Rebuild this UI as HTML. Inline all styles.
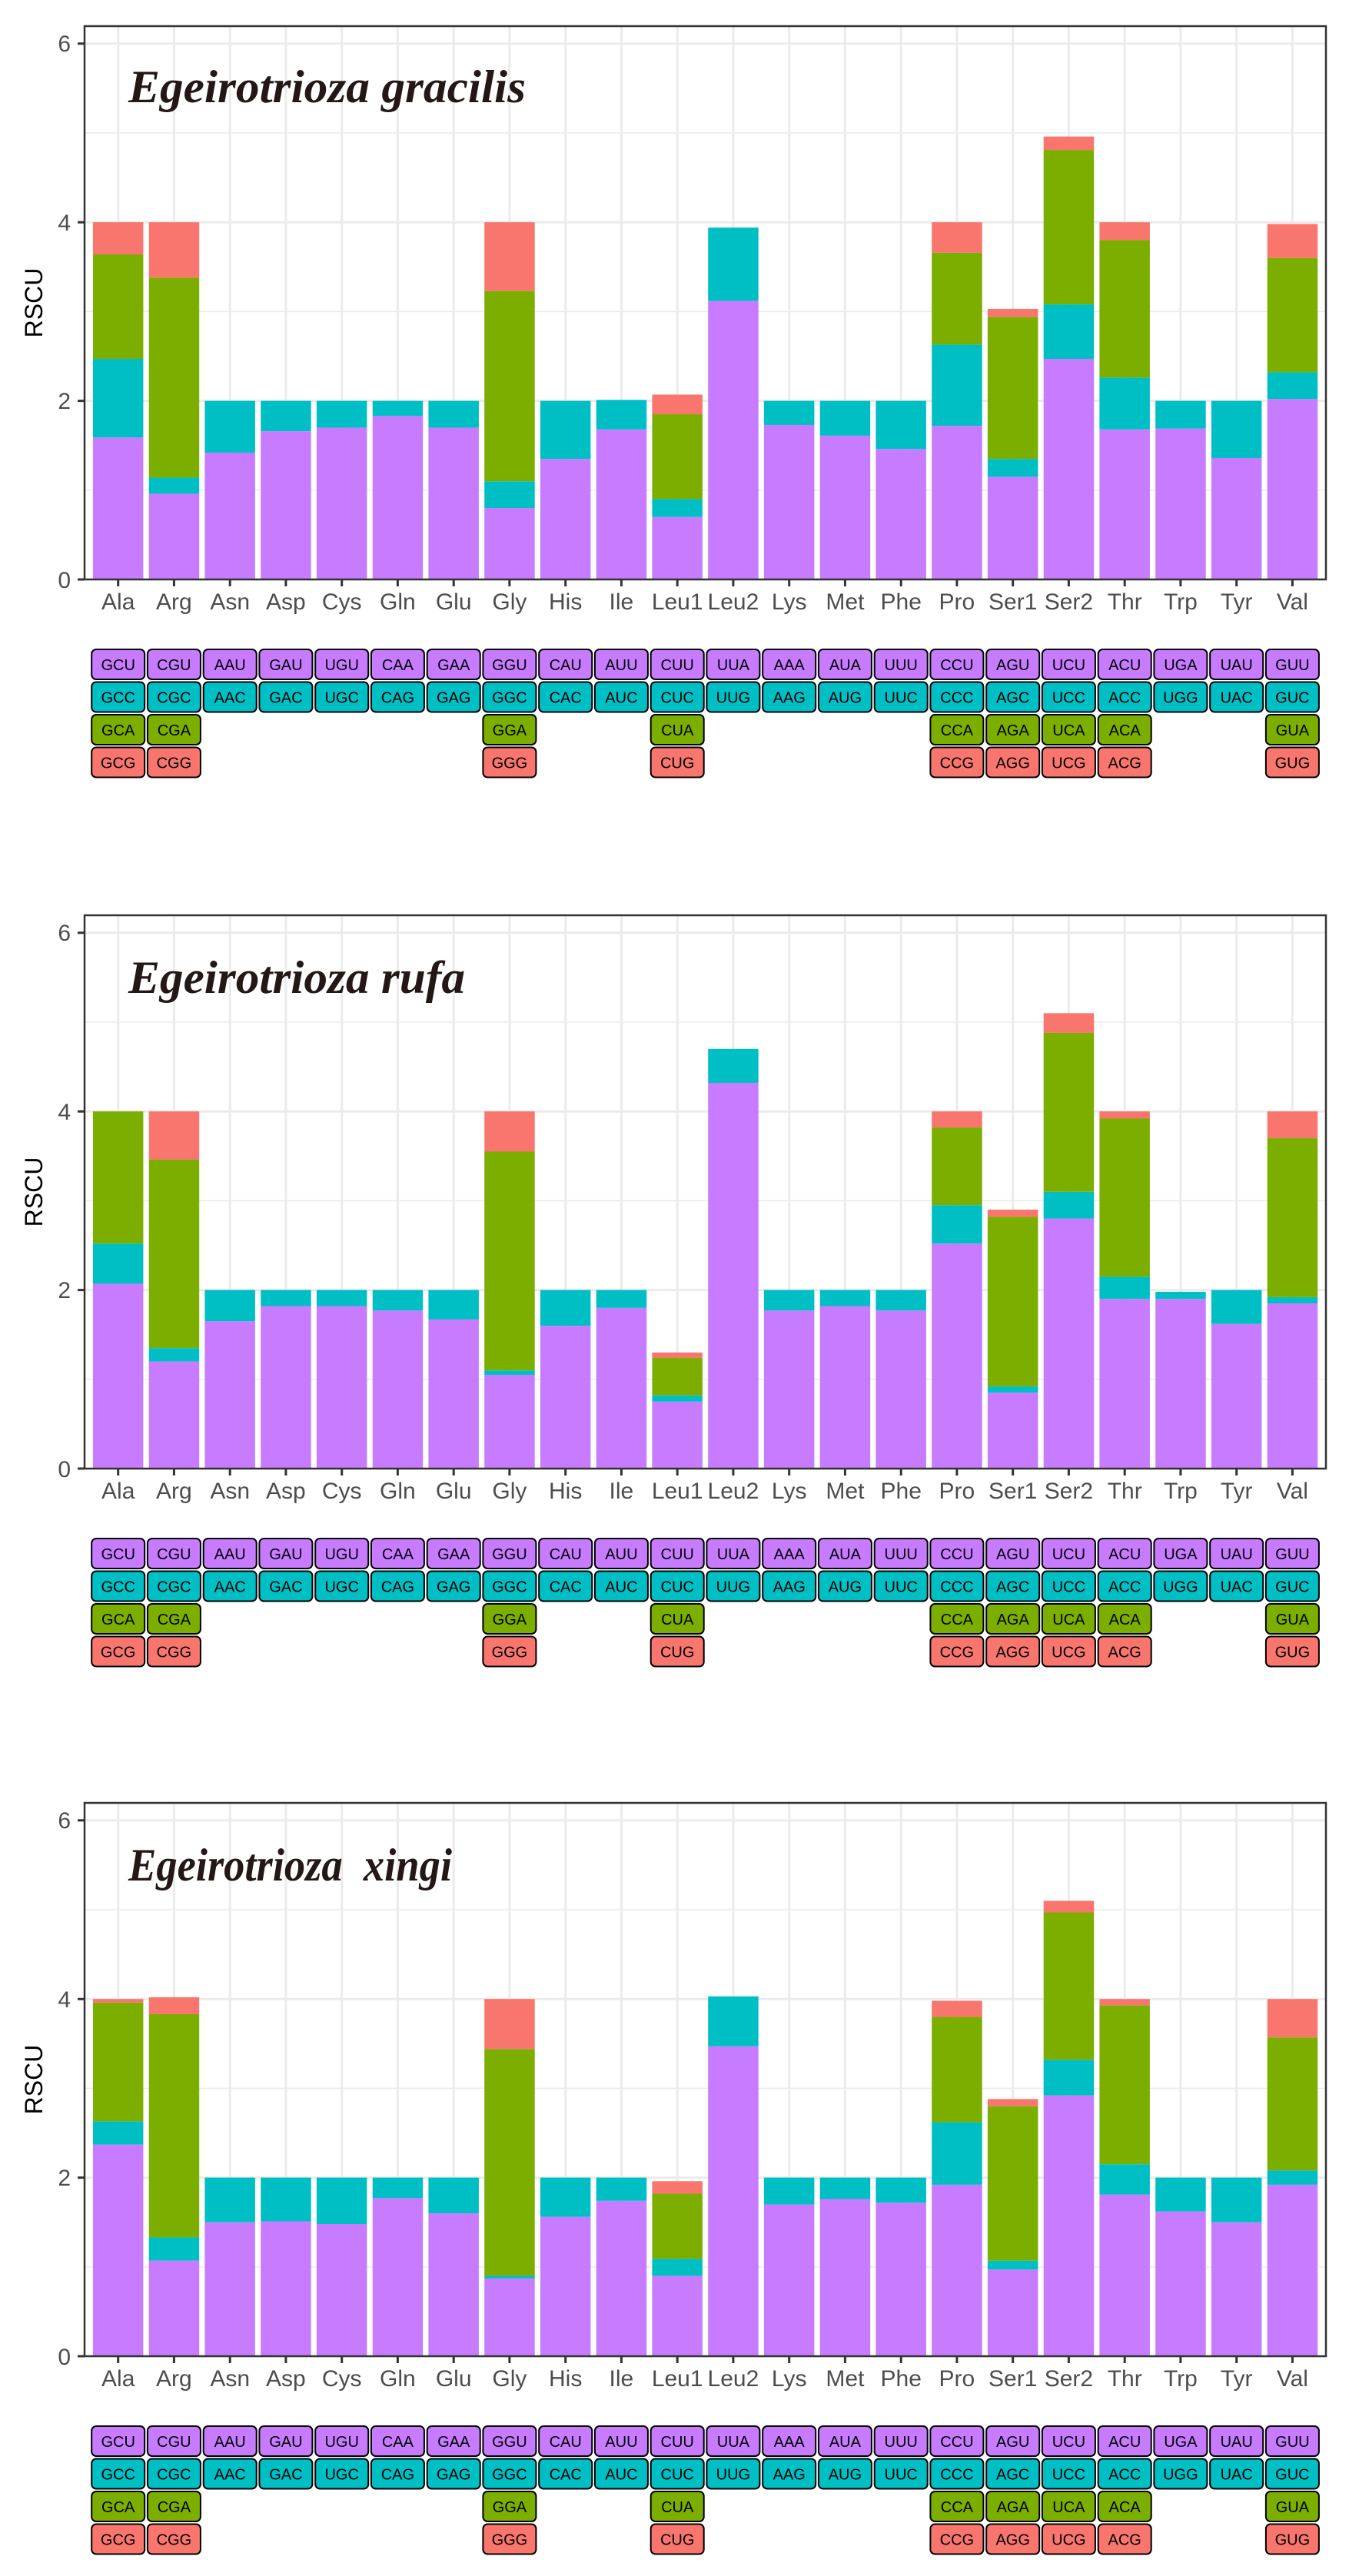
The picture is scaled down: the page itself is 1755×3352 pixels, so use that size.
<!DOCTYPE html>
<html><head><meta charset="utf-8"><style>
html,body{margin:0;padding:0;background:#fff}
svg{display:block}
.p{fill:#C77CFF}.c{fill:#00BFC4}.g{fill:#7CAE00}.r{fill:#F8766D}
.gM{stroke:#ebebeb;stroke-width:3}.gm{stroke:#ebebeb;stroke-width:1.5}
.xl{font-family:"Liberation Sans",sans-serif;font-size:30px;fill:#4d4d4d;text-anchor:middle}
.yl{font-family:"Liberation Sans",sans-serif;font-size:30px;fill:#4d4d4d;text-anchor:end}
.yt{font-family:"Liberation Sans",sans-serif;font-size:32px;fill:#000;text-anchor:middle}
.tt{font-family:"Liberation Serif",serif;font-size:60px;font-weight:bold;font-style:italic;fill:#231815}
.lb rect{stroke:#000;stroke-width:2}
.lb text{font-family:"Liberation Sans",sans-serif;font-size:20px;fill:#000;text-anchor:middle}
</style></head><body>
<svg width="1755" height="3352" viewBox="0 0 1755 3352" xmlns="http://www.w3.org/2000/svg">
<rect width="1755" height="3352" fill="#fff"/>
<defs>
<g id="grid">
<line class="gm" x1="110" x2="1725" y1="637.8" y2="637.8"/><line class="gm" x1="110" x2="1725" y1="405.4" y2="405.4"/><line class="gm" x1="110" x2="1725" y1="173" y2="173"/>
<line class="gM" x1="110" x2="1725" y1="754" y2="754"/><line class="gM" x1="110" x2="1725" y1="521.6" y2="521.6"/><line class="gM" x1="110" x2="1725" y1="289.2" y2="289.2"/><line class="gM" x1="110" x2="1725" y1="56.8" y2="56.8"/>
<path class="gM" d="M153.7 34V754M226.4 34V754M299.2 34V754M371.9 34V754M444.7 34V754M517.4 34V754M590.2 34V754M662.9 34V754M735.7 34V754M808.4 34V754M881.2 34V754M953.9 34V754M1026.7 34V754M1099.4 34V754M1172.2 34V754M1244.9 34V754M1317.7 34V754M1390.4 34V754M1463.2 34V754M1535.9 34V754M1608.7 34V754M1681.4 34V754"/>
</g>
<g id="frame">
<rect x="110" y="34" width="1615" height="720" fill="none" stroke="#333" stroke-width="2.5"/>
<path stroke="#333" stroke-width="3" d="M101 754H110M101 521.6H110M101 289.2H110M101 56.8H110M153.7 754V763M226.4 754V763M299.2 754V763M371.9 754V763M444.7 754V763M517.4 754V763M590.2 754V763M662.9 754V763M735.7 754V763M808.4 754V763M881.2 754V763M953.9 754V763M1026.7 754V763M1099.4 754V763M1172.2 754V763M1244.9 754V763M1317.7 754V763M1390.4 754V763M1463.2 754V763M1535.9 754V763M1608.7 754V763M1681.4 754V763"/>
</g>
</defs>

<!-- PANEL 1 -->
<g transform="translate(0,0)">
<use href="#grid"/>
<g transform="matrix(1 0 0 -116.2 0 754)">
<rect class="p" x="120.9" y="0" width="65.5" height="1.59"/><rect class="c" x="120.9" y="1.59" width="65.5" height="0.88"/><rect class="g" x="120.9" y="2.47" width="65.5" height="1.17"/><rect class="r" x="120.9" y="3.64" width="65.5" height="0.36"/>
<rect class="p" x="193.7" y="0" width="65.5" height="0.96"/><rect class="c" x="193.7" y="0.96" width="65.5" height="0.18"/><rect class="g" x="193.7" y="1.14" width="65.5" height="2.24"/><rect class="r" x="193.7" y="3.38" width="65.5" height="0.62"/>
<rect class="p" x="266.4" y="0" width="65.5" height="1.42"/><rect class="c" x="266.4" y="1.42" width="65.5" height="0.58"/>
<rect class="p" x="339.2" y="0" width="65.5" height="1.66"/><rect class="c" x="339.2" y="1.66" width="65.5" height="0.34"/>
<rect class="p" x="411.9" y="0" width="65.5" height="1.70"/><rect class="c" x="411.9" y="1.70" width="65.5" height="0.30"/>
<rect class="p" x="484.7" y="0" width="65.5" height="1.83"/><rect class="c" x="484.7" y="1.83" width="65.5" height="0.17"/>
<rect class="p" x="557.4" y="0" width="65.5" height="1.70"/><rect class="c" x="557.4" y="1.70" width="65.5" height="0.30"/>
<rect class="p" x="630.2" y="0" width="65.5" height="0.80"/><rect class="c" x="630.2" y="0.80" width="65.5" height="0.30"/><rect class="g" x="630.2" y="1.10" width="65.5" height="2.13"/><rect class="r" x="630.2" y="3.23" width="65.5" height="0.77"/>
<rect class="p" x="702.9" y="0" width="65.5" height="1.35"/><rect class="c" x="702.9" y="1.35" width="65.5" height="0.65"/>
<rect class="p" x="775.7" y="0" width="65.5" height="1.68"/><rect class="c" x="775.7" y="1.68" width="65.5" height="0.33"/>
<rect class="p" x="848.4" y="0" width="65.5" height="0.70"/><rect class="c" x="848.4" y="0.70" width="65.5" height="0.20"/><rect class="g" x="848.4" y="0.90" width="65.5" height="0.95"/><rect class="r" x="848.4" y="1.85" width="65.5" height="0.22"/>
<rect class="p" x="921.2" y="0" width="65.5" height="3.12"/><rect class="c" x="921.2" y="3.12" width="65.5" height="0.82"/>
<rect class="p" x="993.9" y="0" width="65.5" height="1.73"/><rect class="c" x="993.9" y="1.73" width="65.5" height="0.27"/>
<rect class="p" x="1066.7" y="0" width="65.5" height="1.61"/><rect class="c" x="1066.7" y="1.61" width="65.5" height="0.39"/>
<rect class="p" x="1139.4" y="0" width="65.5" height="1.46"/><rect class="c" x="1139.4" y="1.46" width="65.5" height="0.54"/>
<rect class="p" x="1212.2" y="0" width="65.5" height="1.72"/><rect class="c" x="1212.2" y="1.72" width="65.5" height="0.91"/><rect class="g" x="1212.2" y="2.63" width="65.5" height="1.03"/><rect class="r" x="1212.2" y="3.66" width="65.5" height="0.34"/>
<rect class="p" x="1284.9" y="0" width="65.5" height="1.15"/><rect class="c" x="1284.9" y="1.15" width="65.5" height="0.20"/><rect class="g" x="1284.9" y="1.35" width="65.5" height="1.59"/><rect class="r" x="1284.9" y="2.94" width="65.5" height="0.09"/>
<rect class="p" x="1357.7" y="0" width="65.5" height="2.47"/><rect class="c" x="1357.7" y="2.47" width="65.5" height="0.61"/><rect class="g" x="1357.7" y="3.08" width="65.5" height="1.73"/><rect class="r" x="1357.7" y="4.81" width="65.5" height="0.15"/>
<rect class="p" x="1430.4" y="0" width="65.5" height="1.68"/><rect class="c" x="1430.4" y="1.68" width="65.5" height="0.58"/><rect class="g" x="1430.4" y="2.26" width="65.5" height="1.54"/><rect class="r" x="1430.4" y="3.80" width="65.5" height="0.20"/>
<rect class="p" x="1503.2" y="0" width="65.5" height="1.69"/><rect class="c" x="1503.2" y="1.69" width="65.5" height="0.31"/>
<rect class="p" x="1575.9" y="0" width="65.5" height="1.36"/><rect class="c" x="1575.9" y="1.36" width="65.5" height="0.64"/>
<rect class="p" x="1648.7" y="0" width="65.5" height="2.02"/><rect class="c" x="1648.7" y="2.02" width="65.5" height="0.30"/><rect class="g" x="1648.7" y="2.32" width="65.5" height="1.28"/><rect class="r" x="1648.7" y="3.60" width="65.5" height="0.38"/>
</g>
<use href="#frame"/>
<text class="tt" x="167" y="133" textLength="517" lengthAdjust="spacingAndGlyphs">Egeirotrioza gracilis</text>
<text class="yl" x="92" y="765">0</text><text class="yl" x="92" y="532">2</text><text class="yl" x="92" y="300">4</text><text class="yl" x="92" y="67">6</text>
<text class="yt" transform="translate(55,394) rotate(-90)">RSCU</text>
<g class="xl"><text x="153.7" y="793" class="xl">Ala</text><text x="226.4" y="793" class="xl">Arg</text><text x="299.2" y="793" class="xl">Asn</text><text x="371.9" y="793" class="xl">Asp</text><text x="444.7" y="793" class="xl">Cys</text><text x="517.4" y="793" class="xl">Gln</text><text x="590.2" y="793" class="xl">Glu</text><text x="662.9" y="793" class="xl">Gly</text><text x="735.7" y="793" class="xl">His</text><text x="808.4" y="793" class="xl">Ile</text><text x="881.2" y="793" class="xl">Leu1</text><text x="953.9" y="793" class="xl">Leu2</text><text x="1026.7" y="793" class="xl">Lys</text><text x="1099.4" y="793" class="xl">Met</text><text x="1172.2" y="793" class="xl">Phe</text><text x="1244.9" y="793" class="xl">Pro</text><text x="1317.7" y="793" class="xl">Ser1</text><text x="1390.4" y="793" class="xl">Ser2</text><text x="1463.2" y="793" class="xl">Thr</text><text x="1535.9" y="793" class="xl">Trp</text><text x="1608.7" y="793" class="xl">Tyr</text><text x="1681.4" y="793" class="xl">Val</text></g>
<g class="lb">
<rect class="p" x="119.2" y="845" width="69" height="39" rx="6"/><rect class="p" x="191.9" y="845" width="69" height="39" rx="6"/><rect class="p" x="264.7" y="845" width="69" height="39" rx="6"/><rect class="p" x="337.4" y="845" width="69" height="39" rx="6"/><rect class="p" x="410.2" y="845" width="69" height="39" rx="6"/><rect class="p" x="482.9" y="845" width="69" height="39" rx="6"/><rect class="p" x="555.7" y="845" width="69" height="39" rx="6"/><rect class="p" x="628.4" y="845" width="69" height="39" rx="6"/><rect class="p" x="701.2" y="845" width="69" height="39" rx="6"/><rect class="p" x="773.9" y="845" width="69" height="39" rx="6"/><rect class="p" x="846.7" y="845" width="69" height="39" rx="6"/><rect class="p" x="919.4" y="845" width="69" height="39" rx="6"/><rect class="p" x="992.2" y="845" width="69" height="39" rx="6"/><rect class="p" x="1064.9" y="845" width="69" height="39" rx="6"/><rect class="p" x="1137.7" y="845" width="69" height="39" rx="6"/><rect class="p" x="1210.4" y="845" width="69" height="39" rx="6"/><rect class="p" x="1283.2" y="845" width="69" height="39" rx="6"/><rect class="p" x="1355.9" y="845" width="69" height="39" rx="6"/><rect class="p" x="1428.7" y="845" width="69" height="39" rx="6"/><rect class="p" x="1501.4" y="845" width="69" height="39" rx="6"/><rect class="p" x="1574.2" y="845" width="69" height="39" rx="6"/><rect class="p" x="1646.9" y="845" width="69" height="39" rx="6"/>
<rect class="c" x="119.2" y="887.5" width="69" height="39" rx="6"/><rect class="c" x="191.9" y="887.5" width="69" height="39" rx="6"/><rect class="c" x="264.7" y="887.5" width="69" height="39" rx="6"/><rect class="c" x="337.4" y="887.5" width="69" height="39" rx="6"/><rect class="c" x="410.2" y="887.5" width="69" height="39" rx="6"/><rect class="c" x="482.9" y="887.5" width="69" height="39" rx="6"/><rect class="c" x="555.7" y="887.5" width="69" height="39" rx="6"/><rect class="c" x="628.4" y="887.5" width="69" height="39" rx="6"/><rect class="c" x="701.2" y="887.5" width="69" height="39" rx="6"/><rect class="c" x="773.9" y="887.5" width="69" height="39" rx="6"/><rect class="c" x="846.7" y="887.5" width="69" height="39" rx="6"/><rect class="c" x="919.4" y="887.5" width="69" height="39" rx="6"/><rect class="c" x="992.2" y="887.5" width="69" height="39" rx="6"/><rect class="c" x="1064.9" y="887.5" width="69" height="39" rx="6"/><rect class="c" x="1137.7" y="887.5" width="69" height="39" rx="6"/><rect class="c" x="1210.4" y="887.5" width="69" height="39" rx="6"/><rect class="c" x="1283.2" y="887.5" width="69" height="39" rx="6"/><rect class="c" x="1355.9" y="887.5" width="69" height="39" rx="6"/><rect class="c" x="1428.7" y="887.5" width="69" height="39" rx="6"/><rect class="c" x="1501.4" y="887.5" width="69" height="39" rx="6"/><rect class="c" x="1574.2" y="887.5" width="69" height="39" rx="6"/><rect class="c" x="1646.9" y="887.5" width="69" height="39" rx="6"/>
<rect class="g" x="119.2" y="930" width="69" height="39" rx="6"/><rect class="g" x="191.9" y="930" width="69" height="39" rx="6"/><rect class="g" x="628.4" y="930" width="69" height="39" rx="6"/><rect class="g" x="846.7" y="930" width="69" height="39" rx="6"/><rect class="g" x="1210.4" y="930" width="69" height="39" rx="6"/><rect class="g" x="1283.2" y="930" width="69" height="39" rx="6"/><rect class="g" x="1355.9" y="930" width="69" height="39" rx="6"/><rect class="g" x="1428.7" y="930" width="69" height="39" rx="6"/><rect class="g" x="1646.9" y="930" width="69" height="39" rx="6"/>
<rect class="r" x="119.2" y="972.5" width="69" height="39" rx="6"/><rect class="r" x="191.9" y="972.5" width="69" height="39" rx="6"/><rect class="r" x="628.4" y="972.5" width="69" height="39" rx="6"/><rect class="r" x="846.7" y="972.5" width="69" height="39" rx="6"/><rect class="r" x="1210.4" y="972.5" width="69" height="39" rx="6"/><rect class="r" x="1283.2" y="972.5" width="69" height="39" rx="6"/><rect class="r" x="1355.9" y="972.5" width="69" height="39" rx="6"/><rect class="r" x="1428.7" y="972.5" width="69" height="39" rx="6"/><rect class="r" x="1646.9" y="972.5" width="69" height="39" rx="6"/>
<text x="153.7" y="872">GCU</text><text x="226.4" y="872">CGU</text><text x="299.2" y="872">AAU</text><text x="371.9" y="872">GAU</text><text x="444.7" y="872">UGU</text><text x="517.4" y="872">CAA</text><text x="590.2" y="872">GAA</text><text x="662.9" y="872">GGU</text><text x="735.7" y="872">CAU</text><text x="808.4" y="872">AUU</text><text x="881.2" y="872">CUU</text><text x="953.9" y="872">UUA</text><text x="1026.7" y="872">AAA</text><text x="1099.4" y="872">AUA</text><text x="1172.2" y="872">UUU</text><text x="1244.9" y="872">CCU</text><text x="1317.7" y="872">AGU</text><text x="1390.4" y="872">UCU</text><text x="1463.2" y="872">ACU</text><text x="1535.9" y="872">UGA</text><text x="1608.7" y="872">UAU</text><text x="1681.4" y="872">GUU</text>
<text x="153.7" y="914.5">GCC</text><text x="226.4" y="914.5">CGC</text><text x="299.2" y="914.5">AAC</text><text x="371.9" y="914.5">GAC</text><text x="444.7" y="914.5">UGC</text><text x="517.4" y="914.5">CAG</text><text x="590.2" y="914.5">GAG</text><text x="662.9" y="914.5">GGC</text><text x="735.7" y="914.5">CAC</text><text x="808.4" y="914.5">AUC</text><text x="881.2" y="914.5">CUC</text><text x="953.9" y="914.5">UUG</text><text x="1026.7" y="914.5">AAG</text><text x="1099.4" y="914.5">AUG</text><text x="1172.2" y="914.5">UUC</text><text x="1244.9" y="914.5">CCC</text><text x="1317.7" y="914.5">AGC</text><text x="1390.4" y="914.5">UCC</text><text x="1463.2" y="914.5">ACC</text><text x="1535.9" y="914.5">UGG</text><text x="1608.7" y="914.5">UAC</text><text x="1681.4" y="914.5">GUC</text>
<text x="153.7" y="957">GCA</text><text x="226.4" y="957">CGA</text><text x="662.9" y="957">GGA</text><text x="881.2" y="957">CUA</text><text x="1244.9" y="957">CCA</text><text x="1317.7" y="957">AGA</text><text x="1390.4" y="957">UCA</text><text x="1463.2" y="957">ACA</text><text x="1681.4" y="957">GUA</text>
<text x="153.7" y="999.5">GCG</text><text x="226.4" y="999.5">CGG</text><text x="662.9" y="999.5">GGG</text><text x="881.2" y="999.5">CUG</text><text x="1244.9" y="999.5">CCG</text><text x="1317.7" y="999.5">AGG</text><text x="1390.4" y="999.5">UCG</text><text x="1463.2" y="999.5">ACG</text><text x="1681.4" y="999.5">GUG</text>
</g>
</g>

<!-- PANEL 2 -->
<g transform="translate(0,1157)">
<use href="#grid"/>
<g transform="matrix(1 0 0 -116.2 0 754)">
<rect class="p" x="120.9" y="0" width="65.5" height="2.07"/><rect class="c" x="120.9" y="2.07" width="65.5" height="0.45"/><rect class="g" x="120.9" y="2.52" width="65.5" height="1.48"/>
<rect class="p" x="193.7" y="0" width="65.5" height="1.20"/><rect class="c" x="193.7" y="1.20" width="65.5" height="0.15"/><rect class="g" x="193.7" y="1.35" width="65.5" height="2.11"/><rect class="r" x="193.7" y="3.46" width="65.5" height="0.54"/>
<rect class="p" x="266.4" y="0" width="65.5" height="1.65"/><rect class="c" x="266.4" y="1.65" width="65.5" height="0.35"/>
<rect class="p" x="339.2" y="0" width="65.5" height="1.82"/><rect class="c" x="339.2" y="1.82" width="65.5" height="0.18"/>
<rect class="p" x="411.9" y="0" width="65.5" height="1.82"/><rect class="c" x="411.9" y="1.82" width="65.5" height="0.18"/>
<rect class="p" x="484.7" y="0" width="65.5" height="1.77"/><rect class="c" x="484.7" y="1.77" width="65.5" height="0.23"/>
<rect class="p" x="557.4" y="0" width="65.5" height="1.67"/><rect class="c" x="557.4" y="1.67" width="65.5" height="0.33"/>
<rect class="p" x="630.2" y="0" width="65.5" height="1.05"/><rect class="c" x="630.2" y="1.05" width="65.5" height="0.05"/><rect class="g" x="630.2" y="1.10" width="65.5" height="2.45"/><rect class="r" x="630.2" y="3.55" width="65.5" height="0.45"/>
<rect class="p" x="702.9" y="0" width="65.5" height="1.60"/><rect class="c" x="702.9" y="1.60" width="65.5" height="0.40"/>
<rect class="p" x="775.7" y="0" width="65.5" height="1.80"/><rect class="c" x="775.7" y="1.80" width="65.5" height="0.20"/>
<rect class="p" x="848.4" y="0" width="65.5" height="0.75"/><rect class="c" x="848.4" y="0.75" width="65.5" height="0.07"/><rect class="g" x="848.4" y="0.82" width="65.5" height="0.42"/><rect class="r" x="848.4" y="1.24" width="65.5" height="0.06"/>
<rect class="p" x="921.2" y="0" width="65.5" height="4.32"/><rect class="c" x="921.2" y="4.32" width="65.5" height="0.38"/>
<rect class="p" x="993.9" y="0" width="65.5" height="1.77"/><rect class="c" x="993.9" y="1.77" width="65.5" height="0.23"/>
<rect class="p" x="1066.7" y="0" width="65.5" height="1.82"/><rect class="c" x="1066.7" y="1.82" width="65.5" height="0.18"/>
<rect class="p" x="1139.4" y="0" width="65.5" height="1.77"/><rect class="c" x="1139.4" y="1.77" width="65.5" height="0.23"/>
<rect class="p" x="1212.2" y="0" width="65.5" height="2.52"/><rect class="c" x="1212.2" y="2.52" width="65.5" height="0.43"/><rect class="g" x="1212.2" y="2.95" width="65.5" height="0.87"/><rect class="r" x="1212.2" y="3.82" width="65.5" height="0.18"/>
<rect class="p" x="1284.9" y="0" width="65.5" height="0.85"/><rect class="c" x="1284.9" y="0.85" width="65.5" height="0.07"/><rect class="g" x="1284.9" y="0.92" width="65.5" height="1.90"/><rect class="r" x="1284.9" y="2.82" width="65.5" height="0.08"/>
<rect class="p" x="1357.7" y="0" width="65.5" height="2.80"/><rect class="c" x="1357.7" y="2.80" width="65.5" height="0.30"/><rect class="g" x="1357.7" y="3.10" width="65.5" height="1.78"/><rect class="r" x="1357.7" y="4.88" width="65.5" height="0.22"/>
<rect class="p" x="1430.4" y="0" width="65.5" height="1.90"/><rect class="c" x="1430.4" y="1.90" width="65.5" height="0.25"/><rect class="g" x="1430.4" y="2.15" width="65.5" height="1.77"/><rect class="r" x="1430.4" y="3.92" width="65.5" height="0.08"/>
<rect class="p" x="1503.2" y="0" width="65.5" height="1.90"/><rect class="c" x="1503.2" y="1.90" width="65.5" height="0.08"/>
<rect class="p" x="1575.9" y="0" width="65.5" height="1.62"/><rect class="c" x="1575.9" y="1.62" width="65.5" height="0.38"/>
<rect class="p" x="1648.7" y="0" width="65.5" height="1.85"/><rect class="c" x="1648.7" y="1.85" width="65.5" height="0.07"/><rect class="g" x="1648.7" y="1.92" width="65.5" height="1.78"/><rect class="r" x="1648.7" y="3.70" width="65.5" height="0.30"/>
</g>
<use href="#frame"/>
<text class="tt" x="167" y="135" textLength="438" lengthAdjust="spacingAndGlyphs">Egeirotrioza rufa</text>
<text class="yl" x="92" y="765">0</text><text class="yl" x="92" y="532">2</text><text class="yl" x="92" y="300">4</text><text class="yl" x="92" y="67">6</text>
<text class="yt" transform="translate(55,394) rotate(-90)">RSCU</text>
<g><text x="153.7" y="793" class="xl">Ala</text><text x="226.4" y="793" class="xl">Arg</text><text x="299.2" y="793" class="xl">Asn</text><text x="371.9" y="793" class="xl">Asp</text><text x="444.7" y="793" class="xl">Cys</text><text x="517.4" y="793" class="xl">Gln</text><text x="590.2" y="793" class="xl">Glu</text><text x="662.9" y="793" class="xl">Gly</text><text x="735.7" y="793" class="xl">His</text><text x="808.4" y="793" class="xl">Ile</text><text x="881.2" y="793" class="xl">Leu1</text><text x="953.9" y="793" class="xl">Leu2</text><text x="1026.7" y="793" class="xl">Lys</text><text x="1099.4" y="793" class="xl">Met</text><text x="1172.2" y="793" class="xl">Phe</text><text x="1244.9" y="793" class="xl">Pro</text><text x="1317.7" y="793" class="xl">Ser1</text><text x="1390.4" y="793" class="xl">Ser2</text><text x="1463.2" y="793" class="xl">Thr</text><text x="1535.9" y="793" class="xl">Trp</text><text x="1608.7" y="793" class="xl">Tyr</text><text x="1681.4" y="793" class="xl">Val</text></g>
<g class="lb">
<rect class="p" x="119.2" y="845" width="69" height="39" rx="6"/><rect class="p" x="191.9" y="845" width="69" height="39" rx="6"/><rect class="p" x="264.7" y="845" width="69" height="39" rx="6"/><rect class="p" x="337.4" y="845" width="69" height="39" rx="6"/><rect class="p" x="410.2" y="845" width="69" height="39" rx="6"/><rect class="p" x="482.9" y="845" width="69" height="39" rx="6"/><rect class="p" x="555.7" y="845" width="69" height="39" rx="6"/><rect class="p" x="628.4" y="845" width="69" height="39" rx="6"/><rect class="p" x="701.2" y="845" width="69" height="39" rx="6"/><rect class="p" x="773.9" y="845" width="69" height="39" rx="6"/><rect class="p" x="846.7" y="845" width="69" height="39" rx="6"/><rect class="p" x="919.4" y="845" width="69" height="39" rx="6"/><rect class="p" x="992.2" y="845" width="69" height="39" rx="6"/><rect class="p" x="1064.9" y="845" width="69" height="39" rx="6"/><rect class="p" x="1137.7" y="845" width="69" height="39" rx="6"/><rect class="p" x="1210.4" y="845" width="69" height="39" rx="6"/><rect class="p" x="1283.2" y="845" width="69" height="39" rx="6"/><rect class="p" x="1355.9" y="845" width="69" height="39" rx="6"/><rect class="p" x="1428.7" y="845" width="69" height="39" rx="6"/><rect class="p" x="1501.4" y="845" width="69" height="39" rx="6"/><rect class="p" x="1574.2" y="845" width="69" height="39" rx="6"/><rect class="p" x="1646.9" y="845" width="69" height="39" rx="6"/>
<rect class="c" x="119.2" y="887.5" width="69" height="39" rx="6"/><rect class="c" x="191.9" y="887.5" width="69" height="39" rx="6"/><rect class="c" x="264.7" y="887.5" width="69" height="39" rx="6"/><rect class="c" x="337.4" y="887.5" width="69" height="39" rx="6"/><rect class="c" x="410.2" y="887.5" width="69" height="39" rx="6"/><rect class="c" x="482.9" y="887.5" width="69" height="39" rx="6"/><rect class="c" x="555.7" y="887.5" width="69" height="39" rx="6"/><rect class="c" x="628.4" y="887.5" width="69" height="39" rx="6"/><rect class="c" x="701.2" y="887.5" width="69" height="39" rx="6"/><rect class="c" x="773.9" y="887.5" width="69" height="39" rx="6"/><rect class="c" x="846.7" y="887.5" width="69" height="39" rx="6"/><rect class="c" x="919.4" y="887.5" width="69" height="39" rx="6"/><rect class="c" x="992.2" y="887.5" width="69" height="39" rx="6"/><rect class="c" x="1064.9" y="887.5" width="69" height="39" rx="6"/><rect class="c" x="1137.7" y="887.5" width="69" height="39" rx="6"/><rect class="c" x="1210.4" y="887.5" width="69" height="39" rx="6"/><rect class="c" x="1283.2" y="887.5" width="69" height="39" rx="6"/><rect class="c" x="1355.9" y="887.5" width="69" height="39" rx="6"/><rect class="c" x="1428.7" y="887.5" width="69" height="39" rx="6"/><rect class="c" x="1501.4" y="887.5" width="69" height="39" rx="6"/><rect class="c" x="1574.2" y="887.5" width="69" height="39" rx="6"/><rect class="c" x="1646.9" y="887.5" width="69" height="39" rx="6"/>
<rect class="g" x="119.2" y="930" width="69" height="39" rx="6"/><rect class="g" x="191.9" y="930" width="69" height="39" rx="6"/><rect class="g" x="628.4" y="930" width="69" height="39" rx="6"/><rect class="g" x="846.7" y="930" width="69" height="39" rx="6"/><rect class="g" x="1210.4" y="930" width="69" height="39" rx="6"/><rect class="g" x="1283.2" y="930" width="69" height="39" rx="6"/><rect class="g" x="1355.9" y="930" width="69" height="39" rx="6"/><rect class="g" x="1428.7" y="930" width="69" height="39" rx="6"/><rect class="g" x="1646.9" y="930" width="69" height="39" rx="6"/>
<rect class="r" x="119.2" y="972.5" width="69" height="39" rx="6"/><rect class="r" x="191.9" y="972.5" width="69" height="39" rx="6"/><rect class="r" x="628.4" y="972.5" width="69" height="39" rx="6"/><rect class="r" x="846.7" y="972.5" width="69" height="39" rx="6"/><rect class="r" x="1210.4" y="972.5" width="69" height="39" rx="6"/><rect class="r" x="1283.2" y="972.5" width="69" height="39" rx="6"/><rect class="r" x="1355.9" y="972.5" width="69" height="39" rx="6"/><rect class="r" x="1428.7" y="972.5" width="69" height="39" rx="6"/><rect class="r" x="1646.9" y="972.5" width="69" height="39" rx="6"/>
<text x="153.7" y="872">GCU</text><text x="226.4" y="872">CGU</text><text x="299.2" y="872">AAU</text><text x="371.9" y="872">GAU</text><text x="444.7" y="872">UGU</text><text x="517.4" y="872">CAA</text><text x="590.2" y="872">GAA</text><text x="662.9" y="872">GGU</text><text x="735.7" y="872">CAU</text><text x="808.4" y="872">AUU</text><text x="881.2" y="872">CUU</text><text x="953.9" y="872">UUA</text><text x="1026.7" y="872">AAA</text><text x="1099.4" y="872">AUA</text><text x="1172.2" y="872">UUU</text><text x="1244.9" y="872">CCU</text><text x="1317.7" y="872">AGU</text><text x="1390.4" y="872">UCU</text><text x="1463.2" y="872">ACU</text><text x="1535.9" y="872">UGA</text><text x="1608.7" y="872">UAU</text><text x="1681.4" y="872">GUU</text>
<text x="153.7" y="914.5">GCC</text><text x="226.4" y="914.5">CGC</text><text x="299.2" y="914.5">AAC</text><text x="371.9" y="914.5">GAC</text><text x="444.7" y="914.5">UGC</text><text x="517.4" y="914.5">CAG</text><text x="590.2" y="914.5">GAG</text><text x="662.9" y="914.5">GGC</text><text x="735.7" y="914.5">CAC</text><text x="808.4" y="914.5">AUC</text><text x="881.2" y="914.5">CUC</text><text x="953.9" y="914.5">UUG</text><text x="1026.7" y="914.5">AAG</text><text x="1099.4" y="914.5">AUG</text><text x="1172.2" y="914.5">UUC</text><text x="1244.9" y="914.5">CCC</text><text x="1317.7" y="914.5">AGC</text><text x="1390.4" y="914.5">UCC</text><text x="1463.2" y="914.5">ACC</text><text x="1535.9" y="914.5">UGG</text><text x="1608.7" y="914.5">UAC</text><text x="1681.4" y="914.5">GUC</text>
<text x="153.7" y="957">GCA</text><text x="226.4" y="957">CGA</text><text x="662.9" y="957">GGA</text><text x="881.2" y="957">CUA</text><text x="1244.9" y="957">CCA</text><text x="1317.7" y="957">AGA</text><text x="1390.4" y="957">UCA</text><text x="1463.2" y="957">ACA</text><text x="1681.4" y="957">GUA</text>
<text x="153.7" y="999.5">GCG</text><text x="226.4" y="999.5">CGG</text><text x="662.9" y="999.5">GGG</text><text x="881.2" y="999.5">CUG</text><text x="1244.9" y="999.5">CCG</text><text x="1317.7" y="999.5">AGG</text><text x="1390.4" y="999.5">UCG</text><text x="1463.2" y="999.5">ACG</text><text x="1681.4" y="999.5">GUG</text>
</g>
</g>

<!-- PANEL 3 -->
<g transform="translate(0,2312)">
<use href="#grid"/>
<g transform="matrix(1 0 0 -116.2 0 754)">
<rect class="p" x="120.9" y="0" width="65.5" height="2.37"/><rect class="c" x="120.9" y="2.37" width="65.5" height="0.26"/><rect class="g" x="120.9" y="2.63" width="65.5" height="1.33"/><rect class="r" x="120.9" y="3.96" width="65.5" height="0.04"/>
<rect class="p" x="193.7" y="0" width="65.5" height="1.07"/><rect class="c" x="193.7" y="1.07" width="65.5" height="0.26"/><rect class="g" x="193.7" y="1.33" width="65.5" height="2.50"/><rect class="r" x="193.7" y="3.83" width="65.5" height="0.19"/>
<rect class="p" x="266.4" y="0" width="65.5" height="1.50"/><rect class="c" x="266.4" y="1.50" width="65.5" height="0.50"/>
<rect class="p" x="339.2" y="0" width="65.5" height="1.51"/><rect class="c" x="339.2" y="1.51" width="65.5" height="0.49"/>
<rect class="p" x="411.9" y="0" width="65.5" height="1.48"/><rect class="c" x="411.9" y="1.48" width="65.5" height="0.52"/>
<rect class="p" x="484.7" y="0" width="65.5" height="1.77"/><rect class="c" x="484.7" y="1.77" width="65.5" height="0.23"/>
<rect class="p" x="557.4" y="0" width="65.5" height="1.60"/><rect class="c" x="557.4" y="1.60" width="65.5" height="0.40"/>
<rect class="p" x="630.2" y="0" width="65.5" height="0.87"/><rect class="c" x="630.2" y="0.87" width="65.5" height="0.03"/><rect class="g" x="630.2" y="0.90" width="65.5" height="2.54"/><rect class="r" x="630.2" y="3.44" width="65.5" height="0.56"/>
<rect class="p" x="702.9" y="0" width="65.5" height="1.56"/><rect class="c" x="702.9" y="1.56" width="65.5" height="0.44"/>
<rect class="p" x="775.7" y="0" width="65.5" height="1.74"/><rect class="c" x="775.7" y="1.74" width="65.5" height="0.26"/>
<rect class="p" x="848.4" y="0" width="65.5" height="0.90"/><rect class="c" x="848.4" y="0.90" width="65.5" height="0.19"/><rect class="g" x="848.4" y="1.09" width="65.5" height="0.73"/><rect class="r" x="848.4" y="1.82" width="65.5" height="0.14"/>
<rect class="p" x="921.2" y="0" width="65.5" height="3.47"/><rect class="c" x="921.2" y="3.47" width="65.5" height="0.56"/>
<rect class="p" x="993.9" y="0" width="65.5" height="1.70"/><rect class="c" x="993.9" y="1.70" width="65.5" height="0.30"/>
<rect class="p" x="1066.7" y="0" width="65.5" height="1.76"/><rect class="c" x="1066.7" y="1.76" width="65.5" height="0.24"/>
<rect class="p" x="1139.4" y="0" width="65.5" height="1.72"/><rect class="c" x="1139.4" y="1.72" width="65.5" height="0.28"/>
<rect class="p" x="1212.2" y="0" width="65.5" height="1.92"/><rect class="c" x="1212.2" y="1.92" width="65.5" height="0.70"/><rect class="g" x="1212.2" y="2.62" width="65.5" height="1.18"/><rect class="r" x="1212.2" y="3.80" width="65.5" height="0.18"/>
<rect class="p" x="1284.9" y="0" width="65.5" height="0.97"/><rect class="c" x="1284.9" y="0.97" width="65.5" height="0.10"/><rect class="g" x="1284.9" y="1.07" width="65.5" height="1.73"/><rect class="r" x="1284.9" y="2.80" width="65.5" height="0.08"/>
<rect class="p" x="1357.7" y="0" width="65.5" height="2.92"/><rect class="c" x="1357.7" y="2.92" width="65.5" height="0.40"/><rect class="g" x="1357.7" y="3.32" width="65.5" height="1.65"/><rect class="r" x="1357.7" y="4.97" width="65.5" height="0.13"/>
<rect class="p" x="1430.4" y="0" width="65.5" height="1.81"/><rect class="c" x="1430.4" y="1.81" width="65.5" height="0.34"/><rect class="g" x="1430.4" y="2.15" width="65.5" height="1.78"/><rect class="r" x="1430.4" y="3.93" width="65.5" height="0.07"/>
<rect class="p" x="1503.2" y="0" width="65.5" height="1.62"/><rect class="c" x="1503.2" y="1.62" width="65.5" height="0.38"/>
<rect class="p" x="1575.9" y="0" width="65.5" height="1.50"/><rect class="c" x="1575.9" y="1.50" width="65.5" height="0.50"/>
<rect class="p" x="1648.7" y="0" width="65.5" height="1.92"/><rect class="c" x="1648.7" y="1.92" width="65.5" height="0.16"/><rect class="g" x="1648.7" y="2.08" width="65.5" height="1.49"/><rect class="r" x="1648.7" y="3.57" width="65.5" height="0.43"/>
</g>
<use href="#frame"/>
<text class="tt" x="167" y="135" textLength="421" lengthAdjust="spacingAndGlyphs" xml:space="preserve">Egeirotrioza  xingi</text>
<text class="yl" x="92" y="765">0</text><text class="yl" x="92" y="532">2</text><text class="yl" x="92" y="300">4</text><text class="yl" x="92" y="67">6</text>
<text class="yt" transform="translate(55,394) rotate(-90)">RSCU</text>
<g><text x="153.7" y="793" class="xl">Ala</text><text x="226.4" y="793" class="xl">Arg</text><text x="299.2" y="793" class="xl">Asn</text><text x="371.9" y="793" class="xl">Asp</text><text x="444.7" y="793" class="xl">Cys</text><text x="517.4" y="793" class="xl">Gln</text><text x="590.2" y="793" class="xl">Glu</text><text x="662.9" y="793" class="xl">Gly</text><text x="735.7" y="793" class="xl">His</text><text x="808.4" y="793" class="xl">Ile</text><text x="881.2" y="793" class="xl">Leu1</text><text x="953.9" y="793" class="xl">Leu2</text><text x="1026.7" y="793" class="xl">Lys</text><text x="1099.4" y="793" class="xl">Met</text><text x="1172.2" y="793" class="xl">Phe</text><text x="1244.9" y="793" class="xl">Pro</text><text x="1317.7" y="793" class="xl">Ser1</text><text x="1390.4" y="793" class="xl">Ser2</text><text x="1463.2" y="793" class="xl">Thr</text><text x="1535.9" y="793" class="xl">Trp</text><text x="1608.7" y="793" class="xl">Tyr</text><text x="1681.4" y="793" class="xl">Val</text></g>
<g class="lb">
<rect class="p" x="119.2" y="845" width="69" height="39" rx="6"/><rect class="p" x="191.9" y="845" width="69" height="39" rx="6"/><rect class="p" x="264.7" y="845" width="69" height="39" rx="6"/><rect class="p" x="337.4" y="845" width="69" height="39" rx="6"/><rect class="p" x="410.2" y="845" width="69" height="39" rx="6"/><rect class="p" x="482.9" y="845" width="69" height="39" rx="6"/><rect class="p" x="555.7" y="845" width="69" height="39" rx="6"/><rect class="p" x="628.4" y="845" width="69" height="39" rx="6"/><rect class="p" x="701.2" y="845" width="69" height="39" rx="6"/><rect class="p" x="773.9" y="845" width="69" height="39" rx="6"/><rect class="p" x="846.7" y="845" width="69" height="39" rx="6"/><rect class="p" x="919.4" y="845" width="69" height="39" rx="6"/><rect class="p" x="992.2" y="845" width="69" height="39" rx="6"/><rect class="p" x="1064.9" y="845" width="69" height="39" rx="6"/><rect class="p" x="1137.7" y="845" width="69" height="39" rx="6"/><rect class="p" x="1210.4" y="845" width="69" height="39" rx="6"/><rect class="p" x="1283.2" y="845" width="69" height="39" rx="6"/><rect class="p" x="1355.9" y="845" width="69" height="39" rx="6"/><rect class="p" x="1428.7" y="845" width="69" height="39" rx="6"/><rect class="p" x="1501.4" y="845" width="69" height="39" rx="6"/><rect class="p" x="1574.2" y="845" width="69" height="39" rx="6"/><rect class="p" x="1646.9" y="845" width="69" height="39" rx="6"/>
<rect class="c" x="119.2" y="887.5" width="69" height="39" rx="6"/><rect class="c" x="191.9" y="887.5" width="69" height="39" rx="6"/><rect class="c" x="264.7" y="887.5" width="69" height="39" rx="6"/><rect class="c" x="337.4" y="887.5" width="69" height="39" rx="6"/><rect class="c" x="410.2" y="887.5" width="69" height="39" rx="6"/><rect class="c" x="482.9" y="887.5" width="69" height="39" rx="6"/><rect class="c" x="555.7" y="887.5" width="69" height="39" rx="6"/><rect class="c" x="628.4" y="887.5" width="69" height="39" rx="6"/><rect class="c" x="701.2" y="887.5" width="69" height="39" rx="6"/><rect class="c" x="773.9" y="887.5" width="69" height="39" rx="6"/><rect class="c" x="846.7" y="887.5" width="69" height="39" rx="6"/><rect class="c" x="919.4" y="887.5" width="69" height="39" rx="6"/><rect class="c" x="992.2" y="887.5" width="69" height="39" rx="6"/><rect class="c" x="1064.9" y="887.5" width="69" height="39" rx="6"/><rect class="c" x="1137.7" y="887.5" width="69" height="39" rx="6"/><rect class="c" x="1210.4" y="887.5" width="69" height="39" rx="6"/><rect class="c" x="1283.2" y="887.5" width="69" height="39" rx="6"/><rect class="c" x="1355.9" y="887.5" width="69" height="39" rx="6"/><rect class="c" x="1428.7" y="887.5" width="69" height="39" rx="6"/><rect class="c" x="1501.4" y="887.5" width="69" height="39" rx="6"/><rect class="c" x="1574.2" y="887.5" width="69" height="39" rx="6"/><rect class="c" x="1646.9" y="887.5" width="69" height="39" rx="6"/>
<rect class="g" x="119.2" y="930" width="69" height="39" rx="6"/><rect class="g" x="191.9" y="930" width="69" height="39" rx="6"/><rect class="g" x="628.4" y="930" width="69" height="39" rx="6"/><rect class="g" x="846.7" y="930" width="69" height="39" rx="6"/><rect class="g" x="1210.4" y="930" width="69" height="39" rx="6"/><rect class="g" x="1283.2" y="930" width="69" height="39" rx="6"/><rect class="g" x="1355.9" y="930" width="69" height="39" rx="6"/><rect class="g" x="1428.7" y="930" width="69" height="39" rx="6"/><rect class="g" x="1646.9" y="930" width="69" height="39" rx="6"/>
<rect class="r" x="119.2" y="972.5" width="69" height="39" rx="6"/><rect class="r" x="191.9" y="972.5" width="69" height="39" rx="6"/><rect class="r" x="628.4" y="972.5" width="69" height="39" rx="6"/><rect class="r" x="846.7" y="972.5" width="69" height="39" rx="6"/><rect class="r" x="1210.4" y="972.5" width="69" height="39" rx="6"/><rect class="r" x="1283.2" y="972.5" width="69" height="39" rx="6"/><rect class="r" x="1355.9" y="972.5" width="69" height="39" rx="6"/><rect class="r" x="1428.7" y="972.5" width="69" height="39" rx="6"/><rect class="r" x="1646.9" y="972.5" width="69" height="39" rx="6"/>
<text x="153.7" y="872">GCU</text><text x="226.4" y="872">CGU</text><text x="299.2" y="872">AAU</text><text x="371.9" y="872">GAU</text><text x="444.7" y="872">UGU</text><text x="517.4" y="872">CAA</text><text x="590.2" y="872">GAA</text><text x="662.9" y="872">GGU</text><text x="735.7" y="872">CAU</text><text x="808.4" y="872">AUU</text><text x="881.2" y="872">CUU</text><text x="953.9" y="872">UUA</text><text x="1026.7" y="872">AAA</text><text x="1099.4" y="872">AUA</text><text x="1172.2" y="872">UUU</text><text x="1244.9" y="872">CCU</text><text x="1317.7" y="872">AGU</text><text x="1390.4" y="872">UCU</text><text x="1463.2" y="872">ACU</text><text x="1535.9" y="872">UGA</text><text x="1608.7" y="872">UAU</text><text x="1681.4" y="872">GUU</text>
<text x="153.7" y="914.5">GCC</text><text x="226.4" y="914.5">CGC</text><text x="299.2" y="914.5">AAC</text><text x="371.9" y="914.5">GAC</text><text x="444.7" y="914.5">UGC</text><text x="517.4" y="914.5">CAG</text><text x="590.2" y="914.5">GAG</text><text x="662.9" y="914.5">GGC</text><text x="735.7" y="914.5">CAC</text><text x="808.4" y="914.5">AUC</text><text x="881.2" y="914.5">CUC</text><text x="953.9" y="914.5">UUG</text><text x="1026.7" y="914.5">AAG</text><text x="1099.4" y="914.5">AUG</text><text x="1172.2" y="914.5">UUC</text><text x="1244.9" y="914.5">CCC</text><text x="1317.7" y="914.5">AGC</text><text x="1390.4" y="914.5">UCC</text><text x="1463.2" y="914.5">ACC</text><text x="1535.9" y="914.5">UGG</text><text x="1608.7" y="914.5">UAC</text><text x="1681.4" y="914.5">GUC</text>
<text x="153.7" y="957">GCA</text><text x="226.4" y="957">CGA</text><text x="662.9" y="957">GGA</text><text x="881.2" y="957">CUA</text><text x="1244.9" y="957">CCA</text><text x="1317.7" y="957">AGA</text><text x="1390.4" y="957">UCA</text><text x="1463.2" y="957">ACA</text><text x="1681.4" y="957">GUA</text>
<text x="153.7" y="999.5">GCG</text><text x="226.4" y="999.5">CGG</text><text x="662.9" y="999.5">GGG</text><text x="881.2" y="999.5">CUG</text><text x="1244.9" y="999.5">CCG</text><text x="1317.7" y="999.5">AGG</text><text x="1390.4" y="999.5">UCG</text><text x="1463.2" y="999.5">ACG</text><text x="1681.4" y="999.5">GUG</text>
</g>
</g>
</svg>
</body></html>
